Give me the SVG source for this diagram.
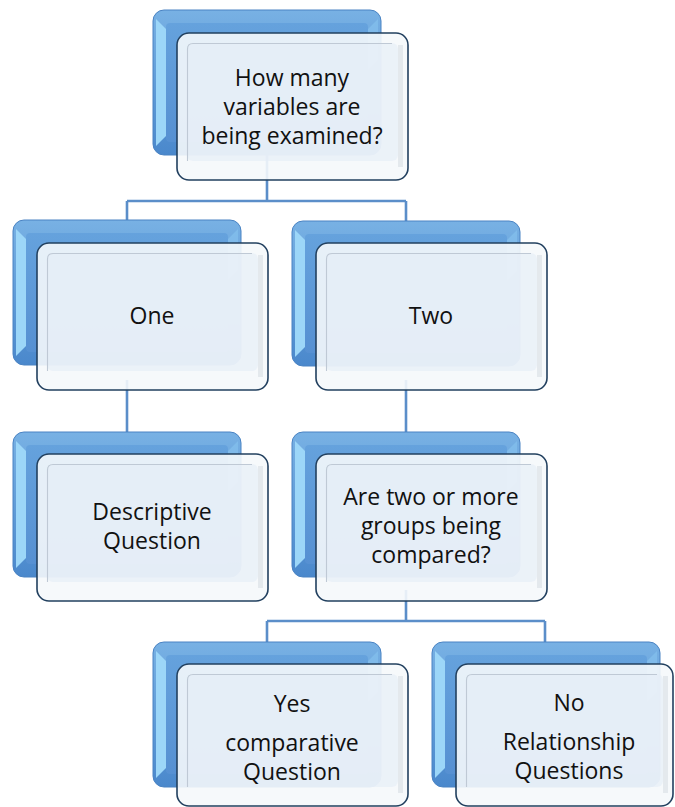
<svg xmlns="http://www.w3.org/2000/svg" xmlns:xlink="http://www.w3.org/1999/xlink" width="675" height="807" viewBox="0 0 675 807">
  <style>
    .link { fill: none; stroke: #5b8ec9; stroke-width: 2.6; }
    .b-out { fill: url(#blueBody); stroke: #4a83c3; stroke-width: 1; }
    .b-lbev { fill: #9cd6f8; }
    .b-rbev { fill: #84c0ee; opacity: 0.7; }
    .b-face { fill: url(#blueFace); }
    .f-out { fill: #f5f8fb; fill-opacity: 0.9; stroke: #22405f; stroke-width: 1.6; }
    .f-face { fill: #e4ecf6; fill-opacity: 0.6; }
    .f-shade { fill: none; stroke: #bfc9d5; stroke-width: 1.1; }
    .f-rbev { fill: #d9dee5; opacity: 0.6; }
    .label { font-family: "Open Sans", Lato, "Liberation Sans", sans-serif; font-size: 23px; fill: #111; text-anchor: middle; }
  </style>
  <defs>
    <linearGradient id="blueBody" x1="0" y1="0" x2="0" y2="1">
      <stop offset="0" stop-color="#78b1e4"/>
      <stop offset="1" stop-color="#4a88cc"/>
    </linearGradient>
    <linearGradient id="blueFace" x1="0" y1="0" x2="0" y2="1">
      <stop offset="0" stop-color="#65a2dd"/>
      <stop offset="1" stop-color="#5690d2"/>
    </linearGradient>
    <!-- blue bevelled card sitting behind -->
    <g id="backCard">
      <rect class="b-out" width="228" height="145" rx="11"/>
      <path class="b-lbev" d="M3,9 L13,19 V126 L3,136 Z"/>
      <path class="b-rbev" d="M225,9 L215,19 V60 L225,50 Z"/>
      <rect class="b-face" x="13" y="13" width="202" height="119" rx="4"/>
    </g>
    <!-- translucent white bevelled card in front -->
    <g id="frontCard">
      <rect class="f-out" width="231" height="147" rx="12"/>
      <rect class="f-face" x="10" y="10" width="211" height="118" rx="6"/>
      <path class="f-shade" d="M10.5,128 V16 Q10.5,10.5 16,10.5 H215"/>
      <rect class="f-rbev" x="221" y="12" width="5" height="122"/>
    </g>
    <!-- shorter front cards for the bottom row -->
    <g id="frontCardLow">
      <rect class="f-out" width="231" height="142" rx="12"/>
      <rect class="f-face" x="10" y="10" width="211" height="113" rx="6"/>
      <path class="f-shade" d="M10.5,123 V16 Q10.5,10.5 16,10.5 H215"/>
      <rect class="f-rbev" x="221" y="12" width="5" height="117"/>
    </g>
    <g id="frontCardLowNarrow">
      <rect class="f-out" width="217" height="142" rx="12"/>
      <rect class="f-face" x="10" y="10" width="197" height="113" rx="6"/>
      <path class="f-shade" d="M10.5,123 V16 Q10.5,10.5 16,10.5 H201"/>
      <rect class="f-rbev" x="207" y="12" width="5" height="117"/>
    </g>
  </defs>

  <rect width="675" height="807" fill="#ffffff"/>

  <g id="connectors">
    <path class="link" d="M267,150 V201 M127,201 H406 M127,201 V226 M406,201 V226"/>
    <path class="link" d="M127,380 V440"/>
    <path class="link" d="M406,380 V440"/>
    <path class="link" d="M406,590 V621 M267,621 H545 M267,621 V650 M545,621 V650"/>
  </g>

  <g id="node-variables">
    <use href="#backCard" x="153" y="10"/>
    <use href="#frontCard" x="177" y="33"/>
    <text class="label" x="292" y="86">How many</text>
    <text class="label" x="292" y="115">variables are</text>
    <text class="label" x="292" y="144">being examined?</text>
  </g>

  <g id="node-one">
    <use href="#backCard" x="13" y="220"/>
    <use href="#frontCard" x="37" y="243"/>
    <text class="label" x="152" y="324">One</text>
  </g>

  <g id="node-two">
    <use href="#backCard" x="292" y="221"/>
    <use href="#frontCard" x="316" y="243"/>
    <text class="label" x="431" y="324">Two</text>
  </g>

  <g id="node-descriptive">
    <use href="#backCard" x="13" y="432"/>
    <use href="#frontCard" x="37" y="454"/>
    <text class="label" x="152" y="520">Descriptive</text>
    <text class="label" x="152" y="549">Question</text>
  </g>

  <g id="node-groups">
    <use href="#backCard" x="292" y="432"/>
    <use href="#frontCard" x="316" y="454"/>
    <text class="label" x="431" y="505">Are two or more</text>
    <text class="label" x="431" y="534">groups being</text>
    <text class="label" x="431" y="563">compared?</text>
  </g>

  <g id="node-yes">
    <use href="#backCard" x="153" y="642"/>
    <use href="#frontCardLow" x="177" y="664"/>
    <text class="label" x="292" y="712">Yes</text>
    <text class="label" x="292" y="751">comparative</text>
    <text class="label" x="292" y="780">Question</text>
  </g>

  <g id="node-no">
    <use href="#backCard" x="432" y="642"/>
    <use href="#frontCardLowNarrow" x="456" y="664"/>
    <text class="label" x="569" y="711">No</text>
    <text class="label" x="569" y="750">Relationship</text>
    <text class="label" x="569" y="779">Questions</text>
  </g>
</svg>
